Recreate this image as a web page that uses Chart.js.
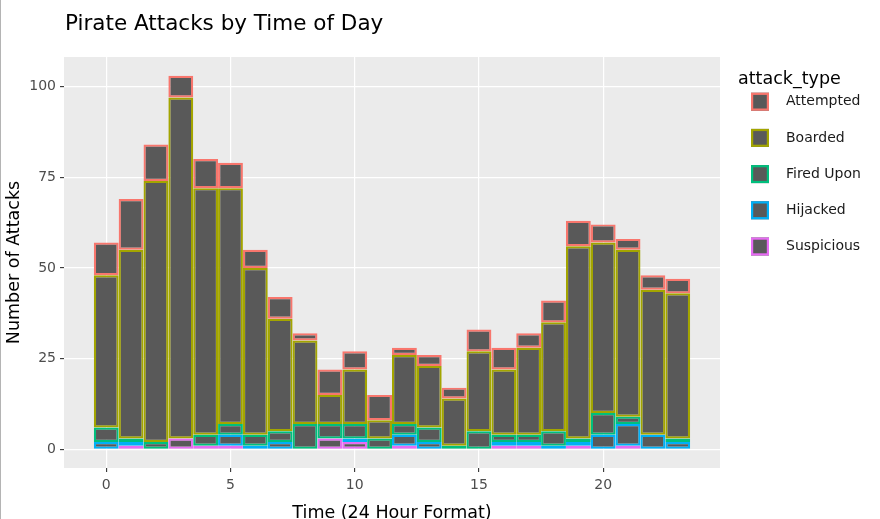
<!DOCTYPE html>
<html>
<head>
<meta charset="utf-8">
<script src="https://cdn.jsdelivr.net/npm/chart.js@4"></script>
<style>
  html, body { margin: 0; padding: 0; background: #fff; overflow: hidden; }
  #wrap { position: relative; width: 880px; height: 526px; }
  #edge { position: absolute; left: 0; top: 0; width: 1px; height: 519px; background: #b4b4b4; }
</style>
</head>
<body>
<div id="wrap">
  <canvas id="pirateChart"></canvas>
  <div id="edge"></div>
</div>
<script>
// counts per hour
const hours = [0, 1, 2, 3, 4, 5, 6, 7, 8, 9, 10, 11, 12, 13, 14, 15, 16, 17, 18, 19, 20, 21, 22, 23];
const attempted = [9, 14, 10, 6, 8, 7, 5, 6, 2, 7, 5, 7, 2, 3, 3, 6, 6, 4, 6, 7, 5, 3, 4, 4];
const boarded = [42, 52, 72, 94, 68, 65, 46, 31, 23, 8, 15, 5, 19, 17, 13, 22, 18, 24, 30, 53, 47, 46, 40, 40];
const firedUpon = [4, 1, 2, 0, 3, 3, 3, 3, 7, 4, 4, 3, 3, 4, 1, 5, 2, 2, 4, 1, 6, 2, 0, 1];
const hijacked = [2, 1, 0, 0, 0, 3, 1, 2, 0, 0, 1, 0, 3, 2, 0, 0, 1, 1, 1, 1, 4, 6, 4, 2];
const suspicious = [0, 1, 0, 3, 1, 1, 0, 0, 0, 3, 2, 0, 1, 0, 0, 0, 1, 1, 0, 1, 0, 1, 0, 0];
const xTicks = [0, 5, 10, 15, 20];
const yTicks = [0, 25, 50, 75, 100];

const types = [
  { label: "Attempted", values: attempted, color: "#F8766D" },
  { label: "Boarded", values: boarded, color: "#A3A500" },
  { label: "Fired Upon", values: firedUpon, color: "#00BF7D" },
  { label: "Hijacked", values: hijacked, color: "#00B0F6" },
  { label: "Suspicious", values: suspicious, color: "#E76BF3" },
];

Chart.defaults.font.family = "'DejaVu Sans', Verdana, sans-serif";

// ggplot stacks the first level on top, Chart.js stacks the first dataset at the bottom
const datasets = types.slice().reverse().map((t) => ({
  label: t.label,
  data: hours.map((h, i) => ({ x: h, y: t.values[i] })),
  backgroundColor: "#595959",
  borderColor: t.color,
  borderWidth: 2.2,
  borderSkipped: false,
  inflateAmount: 0,
  barPercentage: 1,
  categoryPercentage: 1,
}));

// panel background, title and legend drawn ggplot-style
const ggDecor = {
  id: "ggDecor",
  beforeDraw(chart) {
    const { ctx, chartArea: a } = chart;
    ctx.save();
    ctx.fillStyle = "#EBEBEB";
    ctx.fillRect(a.left, a.top, a.right - a.left, a.bottom - a.top);
    ctx.restore();
  },
  afterDraw(chart) {
    const ctx = chart.ctx;
    ctx.save();
    ctx.fillStyle = "#000";
    ctx.textBaseline = "alphabetic";
    ctx.font = "21.5px 'DejaVu Sans'";
    ctx.fillText("Pirate Attacks by Time of Day", 65, 29.5);

    ctx.font = "17.5px 'DejaVu Sans'";
    ctx.fillText("attack_type", 738, 84);

    ctx.font = "14px 'DejaVu Sans'";
    ctx.textBaseline = "middle";
    types.forEach((t, i) => {
      const cy = 101.7 + i * 36.2;
      ctx.fillStyle = "#595959";
      ctx.fillRect(751, cy - 9, 18, 18);
      ctx.strokeStyle = t.color;
      ctx.lineWidth = 2.2;
      ctx.strokeRect(752.1, cy - 7.9, 15.8, 15.8);
      ctx.fillStyle = "#1A1A1A";
      ctx.fillText(t.label, 786, cy);
    });
    ctx.restore();
  },
};

new Chart(document.getElementById("pirateChart").getContext("2d"), {
  type: "bar",
  data: { datasets },
  plugins: [ggDecor],
  options: {
    responsive: true,
    maintainAspectRatio: false,
    animation: false,
    layout: { padding: { top: 57, right: 160, left: 0, bottom: 0 } },
    plugins: {
      legend: { display: false },
      tooltip: { enabled: false },
    },
    scales: {
      x: {
        type: "linear",
        stacked: true,
        offset: false,
        min: -1.7,
        max: 24.7,
        afterFit: (s) => { s.height = 58; },
        afterBuildTicks: (s) => { s.ticks = xTicks.map((v) => ({ value: v })); },
        grid: { offset: false, color: "#FFFFFF", lineWidth: 1.2, tickColor: "#333333", tickLength: 4, tickWidth: 1.1 },
        border: { display: false },
        ticks: { color: "#4D4D4D", font: { size: 14 }, padding: 5, maxRotation: 0 },
        title: {
          display: true,
          text: "Time (24 Hour Format)",
          color: "#000",
          font: { size: 17.5 },
          padding: { top: 0, bottom: 2 },
        },
      },
      y: {
        stacked: true,
        min: -5.15,
        max: 108.15,
        afterFit: (s) => { s.width = 64; },
        afterBuildTicks: (s) => { s.ticks = yTicks.map((v) => ({ value: v })); },
        grid: { color: "#FFFFFF", lineWidth: 1.2, tickColor: "#333333", tickLength: 4, tickWidth: 1.1 },
        border: { display: false },
        ticks: { color: "#4D4D4D", font: { size: 14 }, padding: 4 },
        title: {
          display: true,
          text: "Number of Attacks",
          color: "#000",
          font: { size: 17.5 },
          padding: { top: 3.5, bottom: 0 },
        },
      },
    },
  },
});
</script>
</body>
</html>
